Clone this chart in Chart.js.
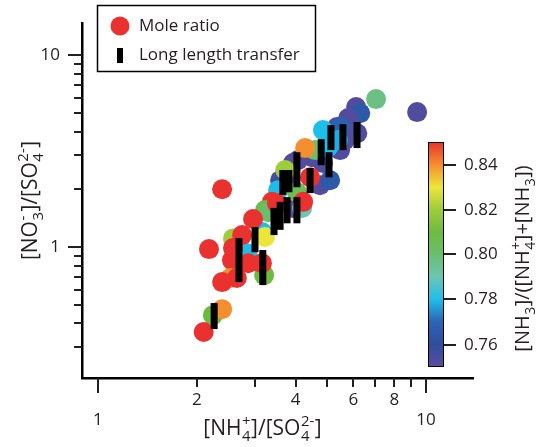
<!DOCTYPE html>
<html>
<head>
<meta charset="utf-8">
<script src="https://cdn.jsdelivr.net/npm/chart.js@4.4.1/dist/chart.umd.min.js"></script>
<style>
  html, body { margin: 0; padding: 0; background: #fff; }
</style>
</head>
<body>
<canvas id="ratioChart" width="537" height="447"></canvas>
<script>
// mole ratios: [NH4+]/[SO4 2-] (x), [NO3-]/[SO4 2-] (y), colour = [NH3]/([NH4+]+[NH3])
const ratioNH4 = [9.39, 7.04, 6.12, 6.30, 5.79, 6.17, 5.66, 5.35, 5.47, 5.17, 5.47, 4.85, 4.49, 4.07,
  4.75, 5.10, 3.93, 3.77, 3.59, 3.93, 4.85, 5.03, 5.39, 4.59, 4.28, 4.43, 3.72, 3.54, 4.04, 4.19,
  4.22, 3.39, 3.23, 3.30, 3.51, 3.16, 3.23, 2.58, 3.21, 2.58, 2.85, 3.16, 2.87, 2.97, 2.75, 2.58,
  2.56, 2.53, 2.39, 2.65, 2.39, 2.18, 2.24, 2.39, 2.10];
const ratioNO3 = [5.05, 5.90, 5.36, 4.98, 4.70, 3.92, 3.61, 4.22, 4.22, 3.92, 3.20, 2.74, 2.94, 2.84,
  2.10, 2.23, 2.74, 2.31, 2.23, 1.60, 4.07, 3.31, 3.61, 3.20, 3.28, 2.31, 2.52, 1.98, 1.93, 1.60,
  1.72, 1.72, 1.56, 1.52, 1.69, 1.20, 1.13, 1.11, 0.715, 0.835, 0.93, 0.825, 0.825, 1.40, 1.155, 0.988,
  0.856, 0.69, 0.657, 0.69, 2.00, 0.976, 0.442, 0.475, 0.361];
const fracNH3 = [0.752, 0.797, 0.752, 0.765, 0.752, 0.752, 0.752, 0.752, 0.768, 0.770, 0.752, 0.752, 0.752, 0.752,
  0.752, 0.765, 0.752, 0.752, 0.755, 0.752, 0.780, 0.780, 0.778, 0.800, 0.840, 0.850, 0.820, 0.780, 0.805, 0.790,
  0.850, 0.850, 0.810, 0.800, 0.850, 0.780, 0.830, 0.820, 0.810, 0.790, 0.780, 0.850, 0.850, 0.850, 0.850, 0.850,
  0.850, 0.840, 0.850, 0.850, 0.850, 0.850, 0.810, 0.840, 0.850];

// long length transfer periods: x and the low / high end of each bar
const transferNH4 = [2.26, 2.69, 3.01, 3.18, 3.44, 3.59, 3.77, 4.04, 3.66, 3.82, 4.04, 4.43, 4.79, 5.06, 5.13, 5.58, 6.16];
const transferLow = [0.374, 0.657, 0.94, 0.634, 1.155, 1.23, 1.33, 1.33, 1.87, 1.93, 2.05, 1.91, 2.67, 2.31, 3.20, 3.20, 3.28];
const transferHigh = [0.511, 1.114, 1.27, 0.965, 1.60, 1.72, 1.82, 1.82, 2.52, 2.52, 3.12, 2.58, 3.65, 3.12, 4.32, 4.37, 4.48];

const xTicks = [1, 2, 3, 4, 5, 6, 7, 8, 9, 10];
const yTicks = [0.3, 0.4, 0.5, 0.6, 0.7, 0.8, 0.9, 1, 2, 3, 4, 5, 6, 7, 8, 9, 10];
const yLabels = [1, 10];
const cbTicks = [0.76, 0.78, 0.80, 0.82, 0.84];
const cbMin = 0.75, cbMax = 0.85;

const ink = '#231f20';
const fontFamily = "'Open Sans', sans-serif";
Chart.defaults.font.family = fontFamily;
Chart.defaults.color = ink;

// rainbow colour scale
const cmapStops = [
  [0.750, [91, 76, 160]],
  [0.760, [46, 78, 156]],
  [0.770, [45, 100, 178]],
  [0.780, [30, 190, 234]],
  [0.790, [108, 197, 180]],
  [0.800, [108, 190, 110]],
  [0.810, [109, 187, 64]],
  [0.820, [160, 204, 60]],
  [0.830, [236, 230, 58]],
  [0.840, [244, 142, 46]],
  [0.850, [233, 50, 47]]
];
function cmap(v) {
  if (v <= cmapStops[0][0]) return 'rgb(' + cmapStops[0][1].join(',') + ')';
  for (let i = 1; i < cmapStops.length; i++) {
    const [v1, c1] = cmapStops[i];
    const [v0, c0] = cmapStops[i - 1];
    if (v <= v1) {
      const t = (v - v0) / (v1 - v0);
      const c = c0.map((a, k) => Math.round(a + (c1[k] - a) * t));
      return 'rgb(' + c.join(',') + ')';
    }
  }
  return 'rgb(' + cmapStops[cmapStops.length - 1][1].join(',') + ')';
}

// text with stacked sub/superscripts: parts = [[main, sub, sup], ...]
const subScale = 0.7;
function richWidth(ctx, parts, size) {
  let w = 0;
  parts.forEach(([main, sub, sup]) => {
    ctx.font = size + 'px ' + fontFamily;
    w += ctx.measureText(main).width;
    ctx.font = Math.round(size * subScale) + 'px ' + fontFamily;
    w += Math.max(sub ? ctx.measureText(sub).width : 0, sup ? ctx.measureText(sup).width : 0) + 1;
  });
  return w;
}
function richText(ctx, parts, size, cx, y) {
  let x = cx - richWidth(ctx, parts, size) / 2;
  ctx.textBaseline = 'alphabetic';
  ctx.textAlign = 'left';
  parts.forEach(([main, sub, sup]) => {
    ctx.font = size + 'px ' + fontFamily;
    ctx.fillText(main, x, y);
    x += ctx.measureText(main).width + 0.5;
    ctx.font = Math.round(size * subScale) + 'px ' + fontFamily;
    let adv = 0;
    if (sub) { ctx.fillText(sub, x, y + size * 0.3); adv = ctx.measureText(sub).width; }
    if (sup) { ctx.fillText(sup, x, y - size * 0.42); adv = Math.max(adv, ctx.measureText(sup).width); }
    x += adv + 0.5;
  });
}

const decorations = {
  id: 'decorations',
  afterDraw(chart) {
    const { ctx, chartArea: a, scales: { x, y } } = chart;
    ctx.save();
    ctx.strokeStyle = ink;
    ctx.fillStyle = ink;
    ctx.lineWidth = 2;

    // log tick marks, long at decades
    xTicks.forEach(v => {
      const px = Math.round(x.getPixelForValue(v));
      const len = (v === 1 || v === 10) ? 15 : 9;
      ctx.beginPath(); ctx.moveTo(px, a.bottom); ctx.lineTo(px, a.bottom + len); ctx.stroke();
    });
    yTicks.forEach(v => {
      const py = Math.round(y.getPixelForValue(v));
      const len = (v === 1 || v === 10) ? 14 : 8;
      ctx.beginPath(); ctx.moveTo(a.left, py); ctx.lineTo(a.left - len, py); ctx.stroke();
    });
    ctx.font = '17px ' + fontFamily;
    ctx.textAlign = 'right';
    ctx.textBaseline = 'middle';
    yLabels.forEach(v => ctx.fillText(String(v), 60, y.getPixelForValue(v)));

    // axis titles
    richText(ctx, [['[NH', '4', '+'], [']/[SO', '4', '2-'], [']']], 21, 263, 435);
    ctx.save();
    ctx.translate(37, 200);
    ctx.rotate(-Math.PI / 2);
    richText(ctx, [['[NO', '3', '-'], [']/[SO', '4', '2-'], [']']], 21, 0, 0);
    ctx.restore();

    // legend
    ctx.lineWidth = 1.5;
    ctx.strokeStyle = '#000';
    ctx.fillStyle = '#fff';
    ctx.fillRect(97, 5, 219, 67);
    ctx.strokeRect(97.5, 5.5, 218, 66);
    ctx.fillStyle = cmap(0.85);
    ctx.beginPath(); ctx.arc(120, 26, 9.5, 0, Math.PI * 2); ctx.fill();
    ctx.fillStyle = '#000';
    ctx.fillRect(117, 48, 6, 15);
    ctx.fillStyle = ink;
    ctx.font = '17px ' + fontFamily;
    ctx.textAlign = 'left';
    ctx.textBaseline = 'middle';
    ctx.fillText('Mole ratio', 139, 26);
    ctx.fillText('Long length transfer', 139, 55);

    // colour bar
    const cb = { left: 428, right: 444, top: 142, bottom: 367 };
    const cbY = v => cb.bottom - (v - cbMin) / (cbMax - cbMin) * (cb.bottom - cb.top);
    const grad = ctx.createLinearGradient(0, cb.bottom, 0, cb.top);
    cmapStops.forEach(([v, c]) => grad.addColorStop((v - cbMin) / (cbMax - cbMin), 'rgb(' + c.join(',') + ')'));
    ctx.fillStyle = grad;
    ctx.fillRect(cb.left, cb.top, cb.right - cb.left, cb.bottom - cb.top);
    ctx.lineWidth = 1;
    ctx.strokeStyle = '#000';
    ctx.strokeRect(cb.left + 0.5, cb.top + 0.5, cb.right - cb.left - 1, cb.bottom - cb.top - 1);
    ctx.lineWidth = 2;
    ctx.strokeStyle = ink;
    ctx.fillStyle = ink;
    ctx.font = '17px ' + fontFamily;
    ctx.textBaseline = 'middle';
    cbTicks.forEach(v => {
      const py = Math.round(cbY(v));
      ctx.beginPath(); ctx.moveTo(cb.right, py); ctx.lineTo(cb.right + 12, py); ctx.stroke();
      ctx.fillText(v.toFixed(2), 464, py);
    });
    ctx.save();
    ctx.translate(529, 258);
    ctx.rotate(-Math.PI / 2);
    richText(ctx, [['[NH', '3', ''], [']/([NH', '4', '+'], [']+[NH', '3', ''], ['])']], 20, 0, 0);
    ctx.restore();

    ctx.restore();
  }
};

const transferSets = transferNH4.map((nh4, i) => ({
  data: [{ x: nh4, y: transferLow[i] }, { x: nh4, y: transferHigh[i] }],
  showLine: true,
  borderColor: '#000',
  borderWidth: 7,
  borderCapStyle: 'butt',
  pointRadius: 0,
  pointHoverRadius: 0
}));

const chart = new Chart('ratioChart', {
  type: 'scatter',
  data: {
    datasets: [
      ...transferSets,
      {
        data: ratioNH4.map((nh4, i) => ({ x: nh4, y: ratioNO3[i] })),
        pointRadius: 10,
        pointHoverRadius: 10,
        pointBorderWidth: 0,
        pointBackgroundColor: fracNH3.map(cmap),
        pointBorderColor: fracNH3.map(cmap)
      }
    ]
  },
  options: {
    responsive: false,
    animation: false,
    events: [],
    layout: { padding: { top: 23, right: 64, left: 0, bottom: 0 } },
    plugins: {
      legend: { display: false },
      tooltip: { enabled: false }
    },
    scales: {
      x: {
        type: 'logarithmic',
        min: 0.894,
        max: 13.9,
        afterFit(s) { s.height = 69; },
        afterBuildTicks(s) { s.ticks = xTicks.map(v => ({ value: v })); },
        grid: { display: false, drawTicks: false },
        border: { display: true, color: '#000', width: 2.5 },
        ticks: {
          autoSkip: false,
          maxRotation: 0,
          padding: 12,
          font: { size: 17 },
          color: ink,
          callback(v) {
            if (v === 1 || v === 10) return ['', String(v)];
            return v % 2 === 0 ? String(v) : '';
          }
        }
      },
      y: {
        type: 'logarithmic',
        min: 0.208,
        max: 14.7,
        afterFit(s) { s.width = 82; },
        afterBuildTicks(s) { s.ticks = yTicks.map(v => ({ value: v })); },
        grid: { display: false, drawTicks: false },
        border: { display: true, color: '#000', width: 2.5 },
        ticks: { display: false }
      }
    }
  },
  plugins: [decorations]
});
</script>
</body>
</html>
